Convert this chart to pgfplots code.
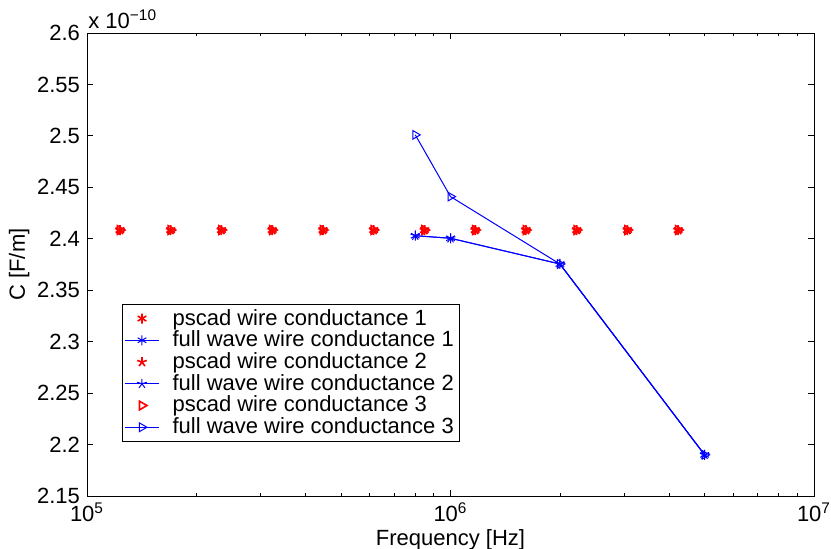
\documentclass[border=0pt]{standalone}
\usepackage{pgfplots}
\pgfplotsset{compat=1.18}
\usepackage{fontspec}
\setmainfont{Liberation Sans}
\begin{document}
\begin{tikzpicture}
\begin{axis}[
  scale only axis,
  width=363.5pt, height=231.5pt,
  xmode=log,
  xmin=1e5, xmax=1e7,
  ymin=2.15, ymax=2.6,
  xtick={1e5,1e6,1e7},
  xticklabels={10\textsuperscript{5},10\textsuperscript{6},10\textsuperscript{7}},
  ytick={2.15,2.2,2.25,2.3,2.35,2.4,2.45,2.5,2.55,2.6},
  yticklabels={2.15,2.2,2.25,2.3,2.35,2.4,2.45,2.5,2.55,2.6},
  tick align=inside,
  major tick length=3pt,
  minor tick length=1.6pt,
  tick style={line width=0.4pt, black},
  axis line style={line width=0.5pt},
  /pgf/number format/assume math mode=true,
  ticklabel style={font=\fontsize{11}{13}\selectfont},
  label style={font=\fontsize{11}{13}\selectfont},
  xlabel={Frequency [Hz]},
  ylabel={C [F/m]},
  xlabel style={yshift=3pt},
  ylabel style={yshift=-3pt},
  legend style={
    at={(0.048,0.117)}, anchor=south west,
    font=\fontsize{11}{11.3}\selectfont,
    draw=black, line width=0.5pt,
    inner xsep=1pt, inner ysep=0.3pt,
    row sep=-2.6pt,
    /tikz/every odd column/.append style={column sep=4.5pt},
  },
  legend cell align=left,
  legend image post style={line width=0.5pt},
  every axis plot/.append style={line width=0.5pt},
]
\addplot[only marks, red, mark=asterisk, mark size=2.5pt, mark options={line width=0.8pt}] coordinates {
 (123200,2.4085) (169900,2.4085) (234300,2.4085) (323200,2.4085)
 (445800,2.4085) (614600,2.4085) (847800,2.4085) (1169200,2.4085)
 (1612500,2.4085) (2223600,2.4085) (3066800,2.4085) (4228900,2.4085)};
\addlegendentry{pscad wire conductance 1}
\addplot[blue, mark=asterisk, mark size=2.5pt] coordinates {
 (8e5,2.403) (1e6,2.4005) (2e6,2.3755) (5e6,2.19)};
\addlegendentry{full wave wire conductance 1}
\addplot[only marks, red, mark=star, mark size=2.5pt, mark options={line width=0.8pt}] coordinates {
 (123200,2.4085) (169900,2.4085) (234300,2.4085) (323200,2.4085)
 (445800,2.4085) (614600,2.4085) (847800,2.4085) (1169200,2.4085)
 (1612500,2.4085) (2223600,2.4085) (3066800,2.4085) (4228900,2.4085)};
\addlegendentry{pscad wire conductance 2}
\addplot[blue, mark=star, mark size=2.5pt] coordinates {
 (8e5,2.403) (1e6,2.4005) (2e6,2.3755) (5e6,2.19)};
\addlegendentry{full wave wire conductance 2}
\addplot[only marks, red, mark=triangle, mark size=2.5pt, mark options={rotate=-90, line width=0.8pt}] coordinates {
 (123200,2.4085) (169900,2.4085) (234300,2.4085) (323200,2.4085)
 (445800,2.4085) (614600,2.4085) (847800,2.4085) (1169200,2.4085)
 (1612500,2.4085) (2223600,2.4085) (3066800,2.4085) (4228900,2.4085)};
\addlegendentry{pscad wire conductance 3}
\addplot[blue, mark=triangle, mark size=2.5pt, mark options={rotate=-90}] coordinates {
 (8e5,2.501) (1e6,2.441) (2e6,2.3755) (5e6,2.19)};
\addlegendentry{full wave wire conductance 3}
\end{axis}
\node[anchor=south west, inner sep=0pt, font=\fontsize{11}{13}\selectfont] at ([shift={(0.5pt,2pt)}]current axis.north west) {x 10\textsuperscript{\textminus 10}};
\pgfresetboundingbox
\path[use as bounding box] ([shift={(-43.5pt,-26pt)}]current axis.south west) rectangle ++(415.5pt,274pt);
\end{tikzpicture}
\end{document}
